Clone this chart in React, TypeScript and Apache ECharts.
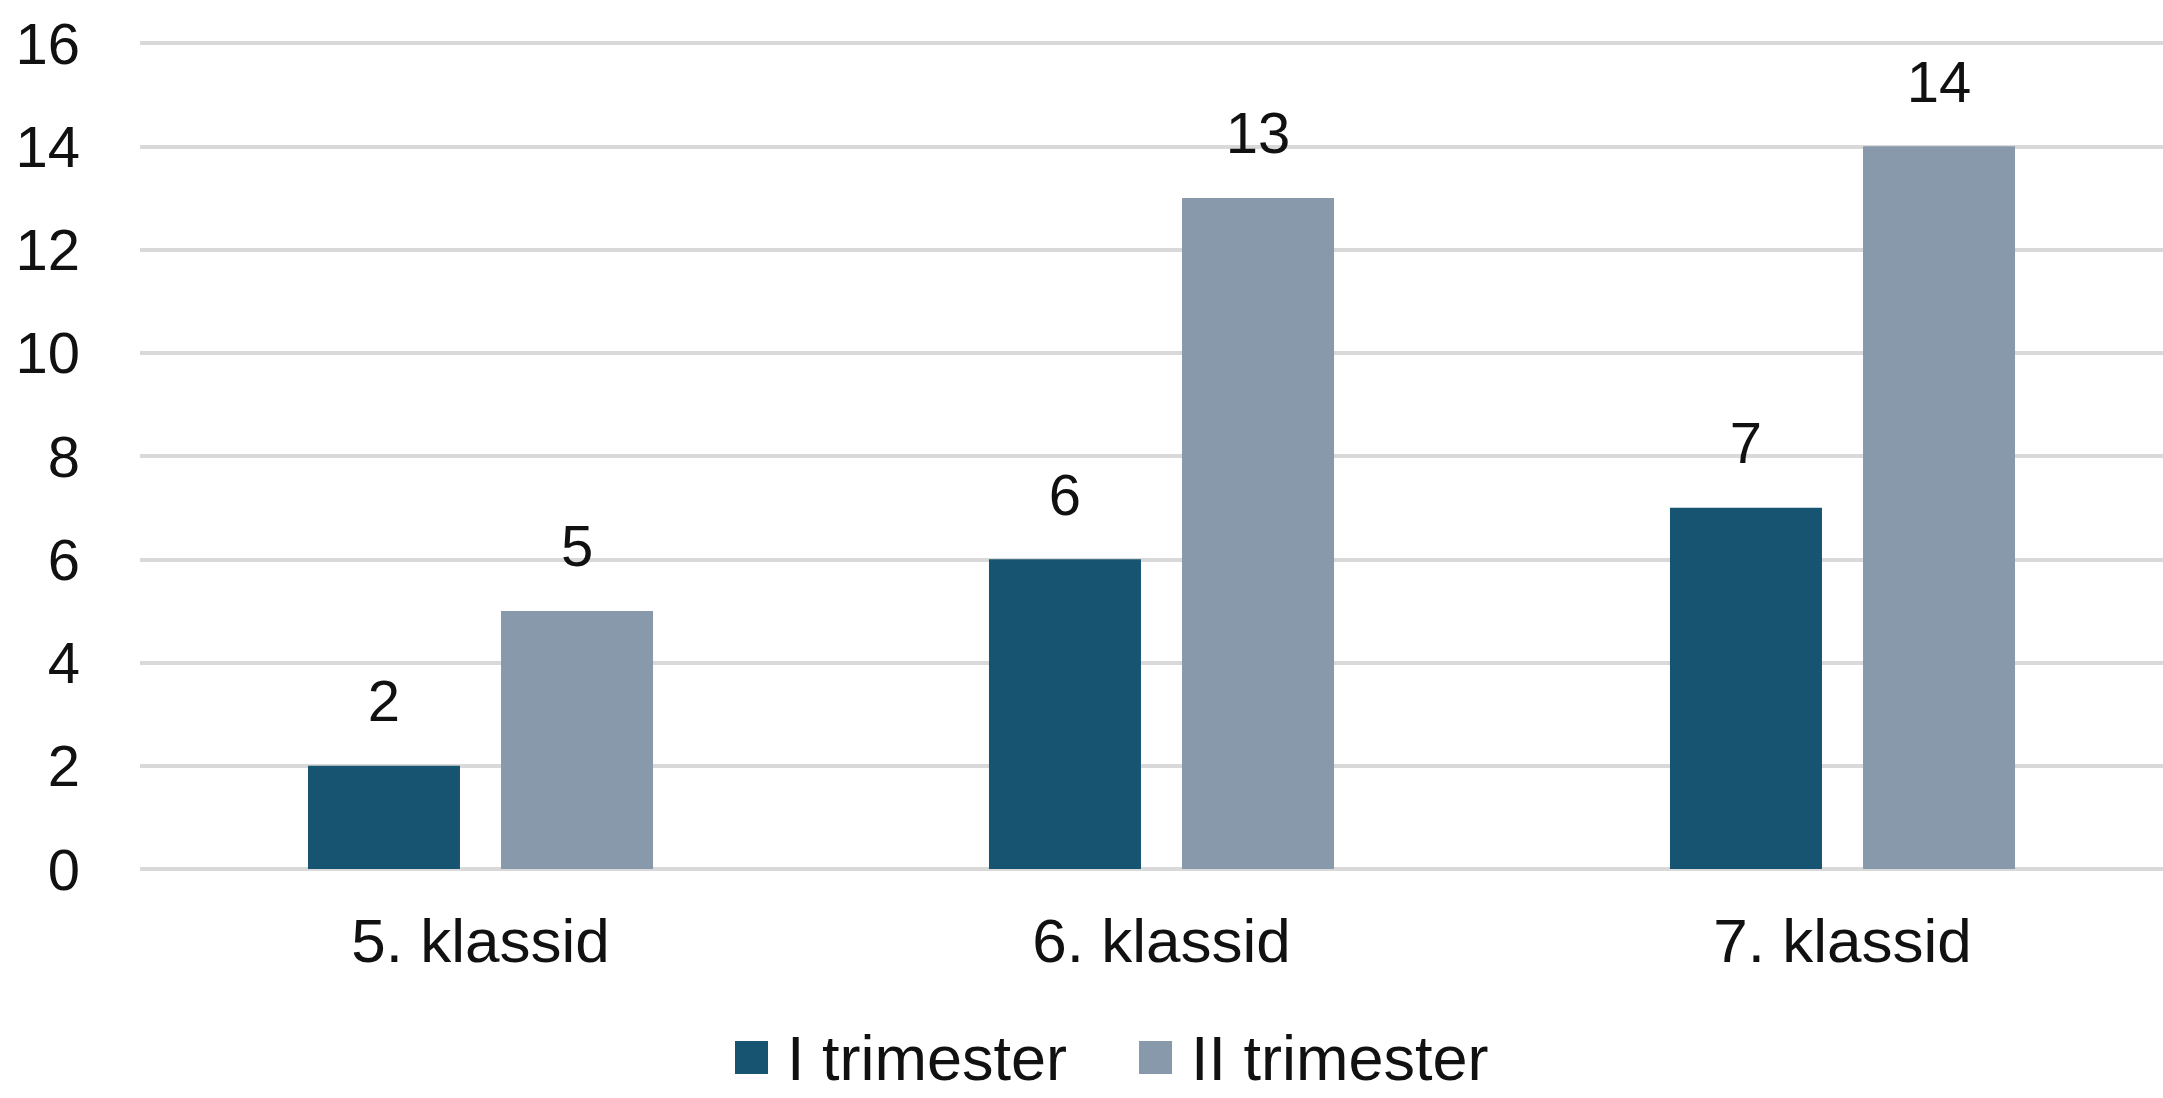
import React, { useEffect, useRef } from "react";
import * as echarts from "echarts";

const categories = ["5. klassid", "6. klassid", "7. klassid"];
const seriesNames = ["I trimester", "II trimester"];
const trimester1 = [2, 6, 7];
const trimester2 = [5, 13, 14];
const yTicks = [0, 2, 4, 6, 8, 10, 12, 14, 16];

const FONT = "'Liberation Sans', Arial, sans-serif";
const TEXT = "#111111";

export default function App() {
  const ref = useRef<HTMLDivElement>(null);
  useEffect(() => {
    if (!ref.current) return;
    const chart = echarts.init(ref.current, null, { renderer: "svg" });
    const labelCfg = {
      show: true,
      position: "top",
      distance: 36,
      color: TEXT,
      fontSize: 58,
      fontFamily: FONT,
    };
    chart.setOption({
      animation: false,
      backgroundColor: "#ffffff",
      grid: { left: 140, top: 43, right: 7, height: 826, containLabel: false },
      legend: {
        data: seriesNames,
        left: 735,
        top: 1026,
        padding: 0,
        icon: "rect",
        itemWidth: 33,
        itemHeight: 33,
        itemGap: 72,
        textStyle: {
          color: TEXT,
          fontSize: 63,
          lineHeight: 60,
          fontFamily: FONT,
          padding: [0, 0, 0, 14],
        },
      },
      xAxis: {
        type: "category",
        data: categories,
        axisLine: { show: false },
        axisTick: { show: false },
        axisLabel: { color: TEXT, fontSize: 62, fontFamily: FONT, margin: 40 },
      },
      yAxis: {
        type: "value",
        min: yTicks[0],
        max: yTicks[yTicks.length - 1],
        interval: 2,
        axisLine: { show: false },
        axisTick: { show: false },
        axisLabel: { color: TEXT, fontSize: 58, fontFamily: FONT, margin: 60 },
        splitLine: { lineStyle: { color: "#d9d9d9", width: 4 } },
      },
      series: [
        {
          name: seriesNames[0],
          type: "bar",
          data: trimester1,
          barWidth: 152,
          barGap: "27%",
          itemStyle: { color: "#165471" },
          label: labelCfg,
        },
        {
          name: seriesNames[1],
          type: "bar",
          data: trimester2,
          barWidth: 152,
          barGap: "27%",
          itemStyle: { color: "#8799aa" },
          label: labelCfg,
        },
      ],
    });
    return () => chart.dispose();
  }, []);
  return (
    <div
      ref={ref}
      style={{ position: "fixed", left: 0, top: 0, width: 2190, height: 1098, background: "#fff" }}
    />
  );
}
